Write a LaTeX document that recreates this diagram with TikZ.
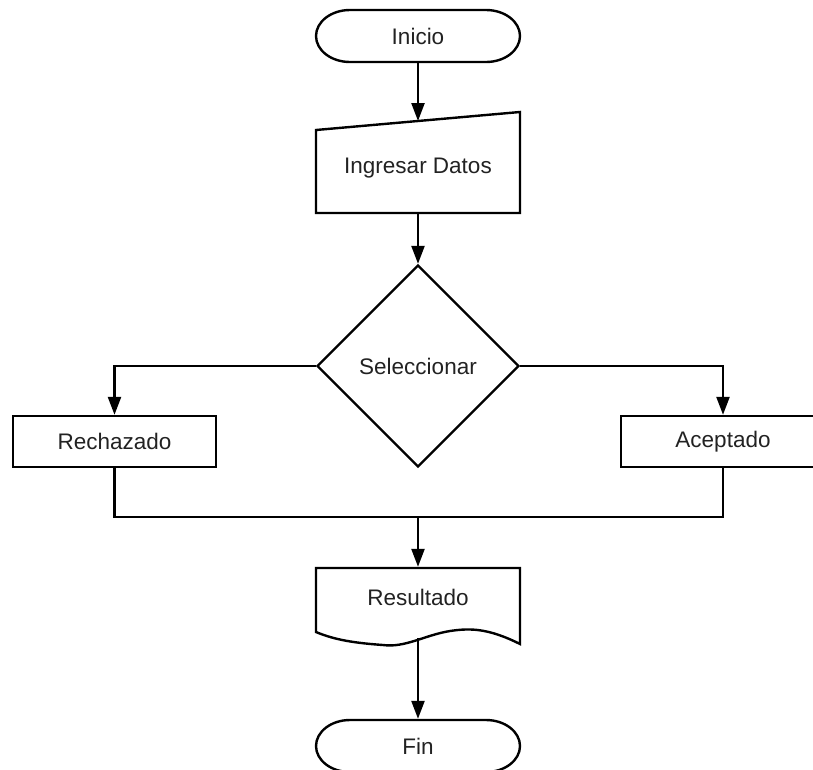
\documentclass[tikz,border=0pt]{standalone}
\usepackage{fontspec}
\setmainfont{Liberation Sans}
\usetikzlibrary{arrows.meta,shapes.geometric}
\definecolor{txt}{HTML}{222222}
\begin{document}
\begin{tikzpicture}[x=1pt,y=-1pt,
  line width=2.4pt,
  every node/.style={font=\fontsize{22.5}{27}\selectfont, text=txt},
  holder/.style={minimum width=204pt, inner sep=0pt},
  procbox/.style={draw, minimum width=203pt, minimum height=51pt, inner sep=0pt},
  decbox/.style={draw, diamond, minimum width=202pt, minimum height=202pt, inner sep=0pt},
  arr/.style={-{Triangle[length=18pt,width=13pt]}},
  line join=miter]
\useasboundingbox (0,0) rectangle (813,769);
\clip (0,0) rectangle (813,769);

% Inicio (terminal)
\node[holder, minimum height=52pt] (inicio) at (418,36) {Inicio};
\draw (350,10) -- (486,10) arc[start angle=-90,end angle=90,x radius=34,y radius=26]
  -- (350,62) arc[start angle=90,end angle=270,x radius=34,y radius=26] -- cycle;

% Ingresar Datos (manual input)
\node[holder, minimum height=92pt] (ingresar) at (418,168) {Ingresar Datos};
\draw (316,130) -- (520,112) -- (520,213) -- (316,213) -- cycle;
\coordinate (ingtop) at (418,121);
\coordinate (ingbot) at (418,213);

% Seleccionar (decision)
\node[decbox] (sel) at (418,366) {Seleccionar};

% Rechazado / Aceptado
\node[procbox] (rech) at (114.5,441.5) {Rechazado};
\node[procbox, minimum width=204pt] (acep) at (723,441.5) {Aceptado};

% Resultado (document)
\node[holder, minimum height=58pt] (res) at (418,597) {Resultado};
\draw (316,568) -- (520,568) -- (520,644)
  .. controls (488,628) and (470,628) .. (450,631)
  .. controls (425,635) and (405,648) .. (383,645)
  .. controls (355,643) and (335,640) .. (316,632) -- cycle;
\coordinate (resbot) at (418,638);

% Fin (terminal)
\node[holder, minimum height=52pt] (fin) at (418,746) {Fin};
\draw (350,720) -- (486,720) arc[start angle=-90,end angle=90,x radius=34,y radius=26]
  -- (350,772) arc[start angle=90,end angle=270,x radius=34,y radius=26] -- cycle;

% junction
\coordinate (join) at (418,517);

% connectors
\draw[arr] (inicio.south) -- (ingtop);
\draw[arr] (ingbot) -- (sel.north);
\draw[arr] (sel.west) -| (rech.north);
\draw[arr] (sel.east) -| (acep.north);
\draw (rech.south) |- (join) -| (acep.south);
\draw[arr] (join) -- (res.north);
\draw[arr] (resbot) -- (fin.north);
\end{tikzpicture}
\end{document}
